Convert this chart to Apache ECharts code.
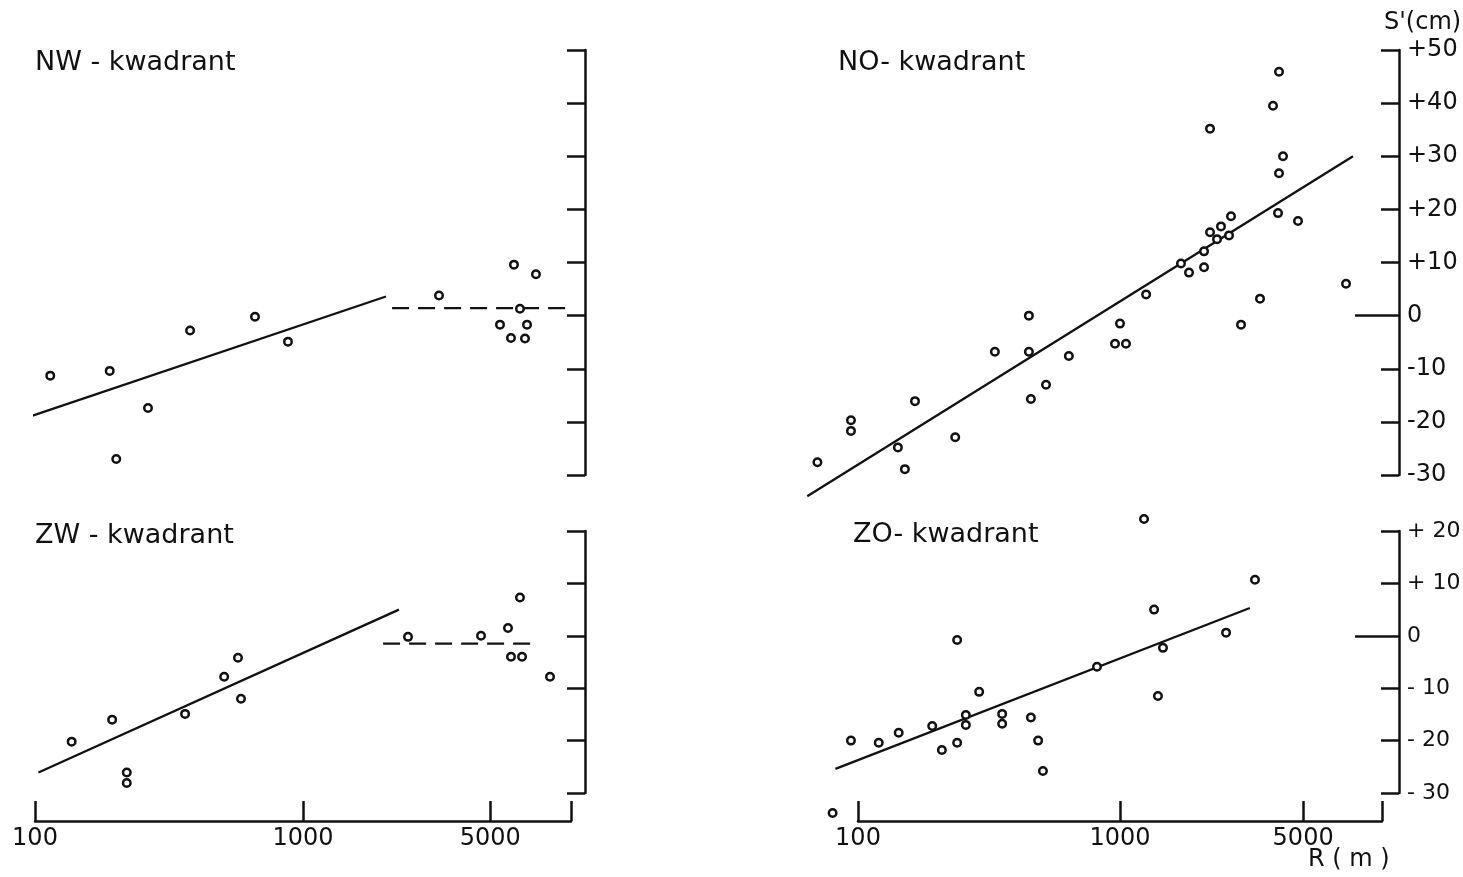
<!DOCTYPE html>
<html>
<head>
<meta charset="utf-8">
<script src="https://cdn.jsdelivr.net/npm/echarts@6/dist/echarts.min.js"></script>
<style>html,body{margin:0;padding:0;background:#fff;}#c{width:1463px;height:877px;}</style>
</head>
<body>
<div id="c"></div>
<script>
// ---- data (R in m, S' in cm) ----
const nwR = [114, 190, 201, 264, 379, 662, 879, 3217, 6126, 7400, 6450, 5433, 6853, 5971, 6735];
const nwS = [-11.3, -10.4, -27.0, -17.4, -2.8, -0.2, -4.9, 3.8, 9.6, 7.8, 1.3, -1.7, -1.7, -4.2, -4.3];
const nwFitR = [97, 2040];
const nwFitS = [-18.9, 3.6];
const nwFlatR = [2150, 9665];
const nwFlatS = [1.4, 1.4];

const noR = [70, 94, 94, 142, 151, 165, 235, 333, 449, 449, 457, 522, 638, 1000, 957, 1054, 1258, 1709, 1834, 2093, 2093, 2206, 2206, 2346, 2429, 2607, 2653, 2897, 3423, 3838, 4045, 4045, 4190, 4010, 4780, 7290];
const noS = [-27.6, -19.7, -21.7, -24.8, -28.9, -16.1, -22.9, -6.8, 0, -6.8, -15.7, -13.0, -7.6, -1.5, -5.3, -5.3, 4.0, 9.8, 8.1, 12.1, 9.1, 15.7, 35.2, 14.4, 16.8, 15.1, 18.7, -1.7, 3.2, 39.5, 45.9, 26.8, 30.0, 19.3, 17.8, 6.0];
const noFitR = [64, 7750];
const noFitS = [-34, 30];

const zwR = [137, 194, 220, 220, 363, 508, 572, 587, 2465, 4616, 5820, 6450, 5971, 6567, 8350];
const zwS = [-20.2, -16.0, -26.1, -28.1, -14.9, -7.8, -4.2, -12.0, -0.2, 0, 1.5, 7.3, -4.0, -4.0, -7.8];
const zwFitR = [103, 2280];
const zwFitS = [-26.1, 5.0];
const zwFlatR = [1990, 7530];
const zwFlatS = [-1.5, -1.5];

const zoR = [80, 94, 120, 143, 192, 209, 239, 239, 258, 258, 290, 355, 355, 457, 487, 508, 817, 1235, 1349, 1459, 1396, 2540, 3275];
const zoS = [-33.8, -20.0, -20.4, -18.5, -17.2, -21.8, -20.4, -0.8, -15.1, -17.0, -10.7, -14.9, -16.8, -15.6, -20.0, -25.8, -5.9, 22.3, 5.0, -2.3, -11.5, 0.6, 10.7];
const zoFitR = [82, 3130];
const zoFitS = [-25.4, 5.3];

const xTickValues = [100, 1000, 5000, 10000];
const xLabelValues = [100, 1000, 5000];
const topTickLabels = {'-30':'-30','-20':'-20','-10':'-10','0':'0','10':'+10','20':'+20','30':'+30','40':'+40','50':'+50'};
const botTickLabels = {'-30':'- 30','-20':'- 20','-10':'- 10','0':'0','10':'+ 10','20':'+ 20'};
const titles = ['NW - kwadrant', 'NO- kwadrant', 'ZW - kwadrant', 'ZO- kwadrant'];
const yName = "S'(cm)";
const xName = 'R ( m )';

// ---- helpers ----
const zip = (a, b) => a.map((v, i) => [v, b[i]]);
const FONT = 'DejaVu Sans';
const INK = '#111';
const DEC_L = 268, DEC_R = 262;   // px per decade (left / right panels)
const EXT_MIN = 50;               // wider hidden range for fit lines starting below 100

const g = (o) => Object.assign({outerBoundsMode: 'none', containLabel: false}, o);
const grids = [
  g({left: 35, width: 2 * DEC_L, top: 50, height: 425}),
  g({left: 858, width: 2 * DEC_R, top: 50, height: 425}),
  g({left: 35, width: 2 * DEC_L, top: 531, height: 262}),
  g({left: 858, width: 2 * DEC_R, top: 531, height: 262}),
  // hidden overlays for the right-hand fit lines (x range 50..10000)
  g({left: 858 - DEC_R * Math.log10(100 / EXT_MIN), width: DEC_R * Math.log10(10000 / EXT_MIN), top: 50, height: 425}),
  g({left: 858 - DEC_R * Math.log10(100 / EXT_MIN), width: DEC_R * Math.log10(10000 / EXT_MIN), top: 531, height: 262})
];

function xAxis(i, show) {
  return {
    type: 'log', logBase: 10, min: 100, max: 10000, gridIndex: i,
    show: show, offset: 28,
    axisLine: {show: true, onZero: false, lineStyle: {color: INK, width: 2.5}},
    axisTick: {show: true, inside: true, length: 20, lineStyle: {color: INK, width: 2.5}, customValues: xTickValues},
    axisLabel: {show: true, margin: 6, color: INK, fontSize: 24, fontFamily: FONT, customValues: xLabelValues,
      formatter: v => String(Math.round(v))},
    splitLine: {show: false}, minorTick: {show: false}
  };
}
function hiddenX(i) {
  return {type: 'log', logBase: 10, min: EXT_MIN, max: 10000, gridIndex: i, show: false,
    axisLine: {onZero: false}, splitLine: {show: false}};
}
function yAxis(i, min, max, labels, offset, fs) {
  return {
    type: 'value', gridIndex: i, position: 'right', offset: offset,
    min: min, max: max, interval: 10,
    axisLine: {show: true, lineStyle: {color: INK, width: 2.5}},
    axisTick: {show: true, inside: true, length: 18, lineStyle: {color: INK, width: 2.5}},
    axisLabel: {show: !!labels, margin: 8, color: INK, fontSize: fs || 24, fontFamily: FONT,
      formatter: v => labels ? labels[String(v)] : ''},
    splitLine: {show: false}
  };
}
function hiddenY(i, min, max) {
  return {type: 'value', gridIndex: i, min: min, max: max, show: false, splitLine: {show: false}};
}
function zeroAxis(i, min, max, offset) {
  return {
    type: 'value', gridIndex: i, position: 'right', offset: offset,
    min: min, max: max,
    axisLine: {show: false},
    axisTick: {show: true, inside: true, length: 44, lineStyle: {color: INK, width: 2.5}, customValues: [0]},
    axisLabel: {show: false},
    splitLine: {show: false}
  };
}
function scatter(xi, yi, R, S) {
  return {type: 'scatter', xAxisIndex: xi, yAxisIndex: yi, data: zip(R, S), clip: false,
    symbol: 'circle', symbolSize: 7.5,
    itemStyle: {color: '#fff', borderColor: INK, borderWidth: 2.5, opacity: 1}, z: 3};
}
function line(xi, yi, R, S, dashed) {
  return {type: 'line', xAxisIndex: xi, yAxisIndex: yi, data: zip(R, S), clip: false,
    symbol: 'none', lineStyle: {color: INK, width: 2.3, type: dashed ? [17, 9] : 'solid'}, z: 2};
}
const titleStyle = {color: INK, fontSize: 27, fontFamily: FONT, fontWeight: 'normal'};

const option = {
  backgroundColor: '#fff',
  animation: false,
  title: [
    {text: titles[0], left: 35, top: 49, padding: 0, textStyle: titleStyle},
    {text: titles[1], left: 838, top: 49, padding: 0, textStyle: titleStyle},
    {text: titles[2], left: 35, top: 522, padding: 0, textStyle: titleStyle},
    {text: titles[3], left: 853, top: 521, padding: 0, textStyle: titleStyle},
    {text: yName, left: 1384, top: 11, padding: 0, textStyle: Object.assign({}, titleStyle, {fontSize: 24})},
    {text: xName, left: 1308, top: 848, padding: 0, textStyle: Object.assign({}, titleStyle, {fontSize: 24})}
  ],
  grid: grids,
  xAxis: [xAxis(0, false), xAxis(1, false), xAxis(2, true), xAxis(3, true), hiddenX(4), hiddenX(5)],
  yAxis: [
    yAxis(0, -30, 50, null, 14),
    yAxis(1, -30, 50, topTickLabels, 17),
    yAxis(2, -30, 20, null, 14),
    yAxis(3, -30, 20, botTickLabels, 17, 22),
    zeroAxis(1, -30, 50, 17),
    zeroAxis(3, -30, 20, 17),
    hiddenY(4, -30, 50),
    hiddenY(5, -30, 20)
  ],
  series: [
    scatter(0, 0, nwR, nwS), line(0, 0, nwFitR, nwFitS, false), line(0, 0, nwFlatR, nwFlatS, true),
    scatter(1, 1, noR, noS), line(4, 6, noFitR, noFitS, false),
    scatter(2, 2, zwR, zwS), line(2, 2, zwFitR, zwFitS, false), line(2, 2, zwFlatR, zwFlatS, true),
    scatter(3, 3, zoR, zoS), line(5, 7, zoFitR, zoFitS, false)
  ]
};
echarts.init(document.getElementById('c'), null, {renderer: 'canvas'}).setOption(option);
</script>
</body>
</html>
